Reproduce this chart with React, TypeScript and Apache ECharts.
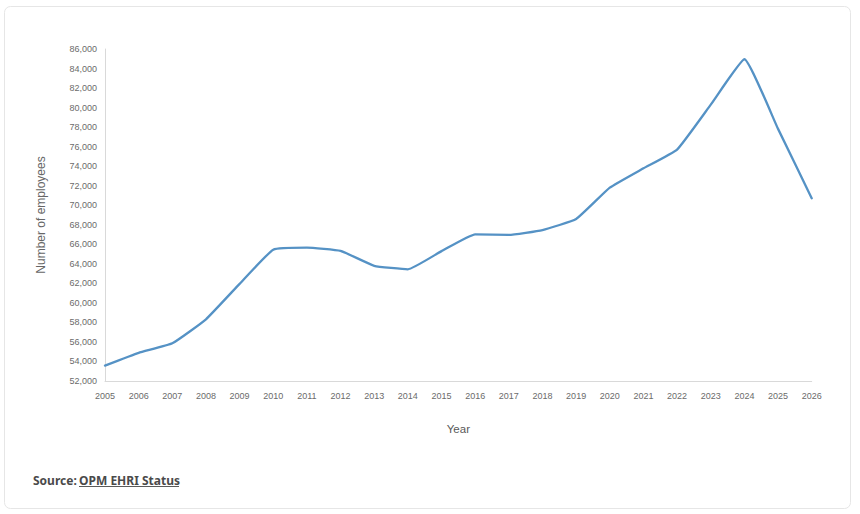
import React, { useEffect, useRef } from "react";
import * as echarts from "echarts";

const years: string[] = [
  "2005", "2006", "2007", "2008", "2009", "2010", "2011", "2012", "2013", "2014", "2015",
  "2016", "2017", "2018", "2019", "2020", "2021", "2022", "2023", "2024", "2025", "2026",
];
const employees: number[] = [
  53570, 54880, 55860, 58320, 61950, 65450, 65650, 65320, 63800, 63440, 65300,
  67020, 66960, 67460, 68590, 71800, 73780, 75700, 80300, 84950, 77820, 70710,
];
const yAxisTitle = "Number of employees";
const xAxisTitle = "Year";
const sourceLabel = "Source:";
const sourceLink = "OPM EHRI Status";

export default function App() {
  const ref = useRef<HTMLDivElement>(null);
  useEffect(() => {
    if (!ref.current) return;
    const chart = echarts.init(ref.current, undefined, { renderer: "svg" });
    const labelFont = "'Liberation Sans', Arial, sans-serif";
    chart.setOption({
      animation: false,
      backgroundColor: "#ffffff",
      grid: { left: 105, top: 49, right: 48.3, bottom: 133, containLabel: false },
      xAxis: {
        type: "category",
        data: years,
        boundaryGap: false,
        name: xAxisTitle,
        nameLocation: "middle",
        nameGap: 42,
        nameTextStyle: { color: "#595959", fontSize: 11.5, fontFamily: labelFont },
        axisLine: { show: true, lineStyle: { color: "#d9d9d9", width: 1 } },
        axisTick: { show: false },
        axisLabel: { color: "#6b6b6b", fontSize: 9, fontFamily: labelFont, margin: 10, interval: 0 },
        splitLine: { show: false },
      },
      yAxis: {
        type: "value",
        min: 52000,
        max: 86000,
        interval: 2000,
        name: yAxisTitle,
        nameLocation: "middle",
        nameRotate: 90,
        nameGap: 58,
        nameTextStyle: { color: "#666666", fontSize: 12, fontFamily: labelFont },
        axisLine: { show: true, lineStyle: { color: "#d9d9d9", width: 1 } },
        axisTick: { show: false },
        axisLabel: {
          color: "#6b6b6b",
          fontSize: 9,
          fontFamily: labelFont,
          margin: 8,
          formatter: (v: number) => v.toLocaleString("en-US"),
        },
        splitLine: { show: false },
      },
      series: [
        {
          type: "line",
          data: employees,
          showSymbol: false,
          symbol: "none",
          smooth: 0.12,
          lineStyle: { color: "#5592c5", width: 2.3, cap: "round", join: "round" },
          z: 3,
        },
      ],
      graphic: [
        {
          type: "rect",
          z: -10,
          silent: true,
          shape: { x: 4.5, y: 6.5, width: 846, height: 502, r: 6 },
          style: { fill: "#ffffff", stroke: "#e6e6e6", lineWidth: 1 },
        },
        {
          type: "text",
          x: 33,
          y: 480,
          style: {
            text: sourceLabel,
            fill: "#4a4a4a",
            font: "bold 12px 'Noto Sans', Inter, sans-serif",
            verticalAlign: "middle",
            align: "left",
          },
        },
        {
          type: "text",
          x: 79,
          y: 480,
          style: {
            text: sourceLink,
            fill: "#4a4a4a",
            font: "bold 12px 'Noto Sans', Inter, sans-serif",
            verticalAlign: "middle",
            align: "left",
          },
        },
        {
          type: "line",
          shape: { x1: 79, y1: 486.5, x2: 179, y2: 486.5 },
          style: { stroke: "#5a5a5a", lineWidth: 1 },
        },
      ],
    });
    return () => chart.dispose();
  }, []);
  return (
    <div
      ref={ref}
      style={{ position: "fixed", left: 0, top: 0, width: 860, height: 514, background: "#ffffff" }}
    />
  );
}
